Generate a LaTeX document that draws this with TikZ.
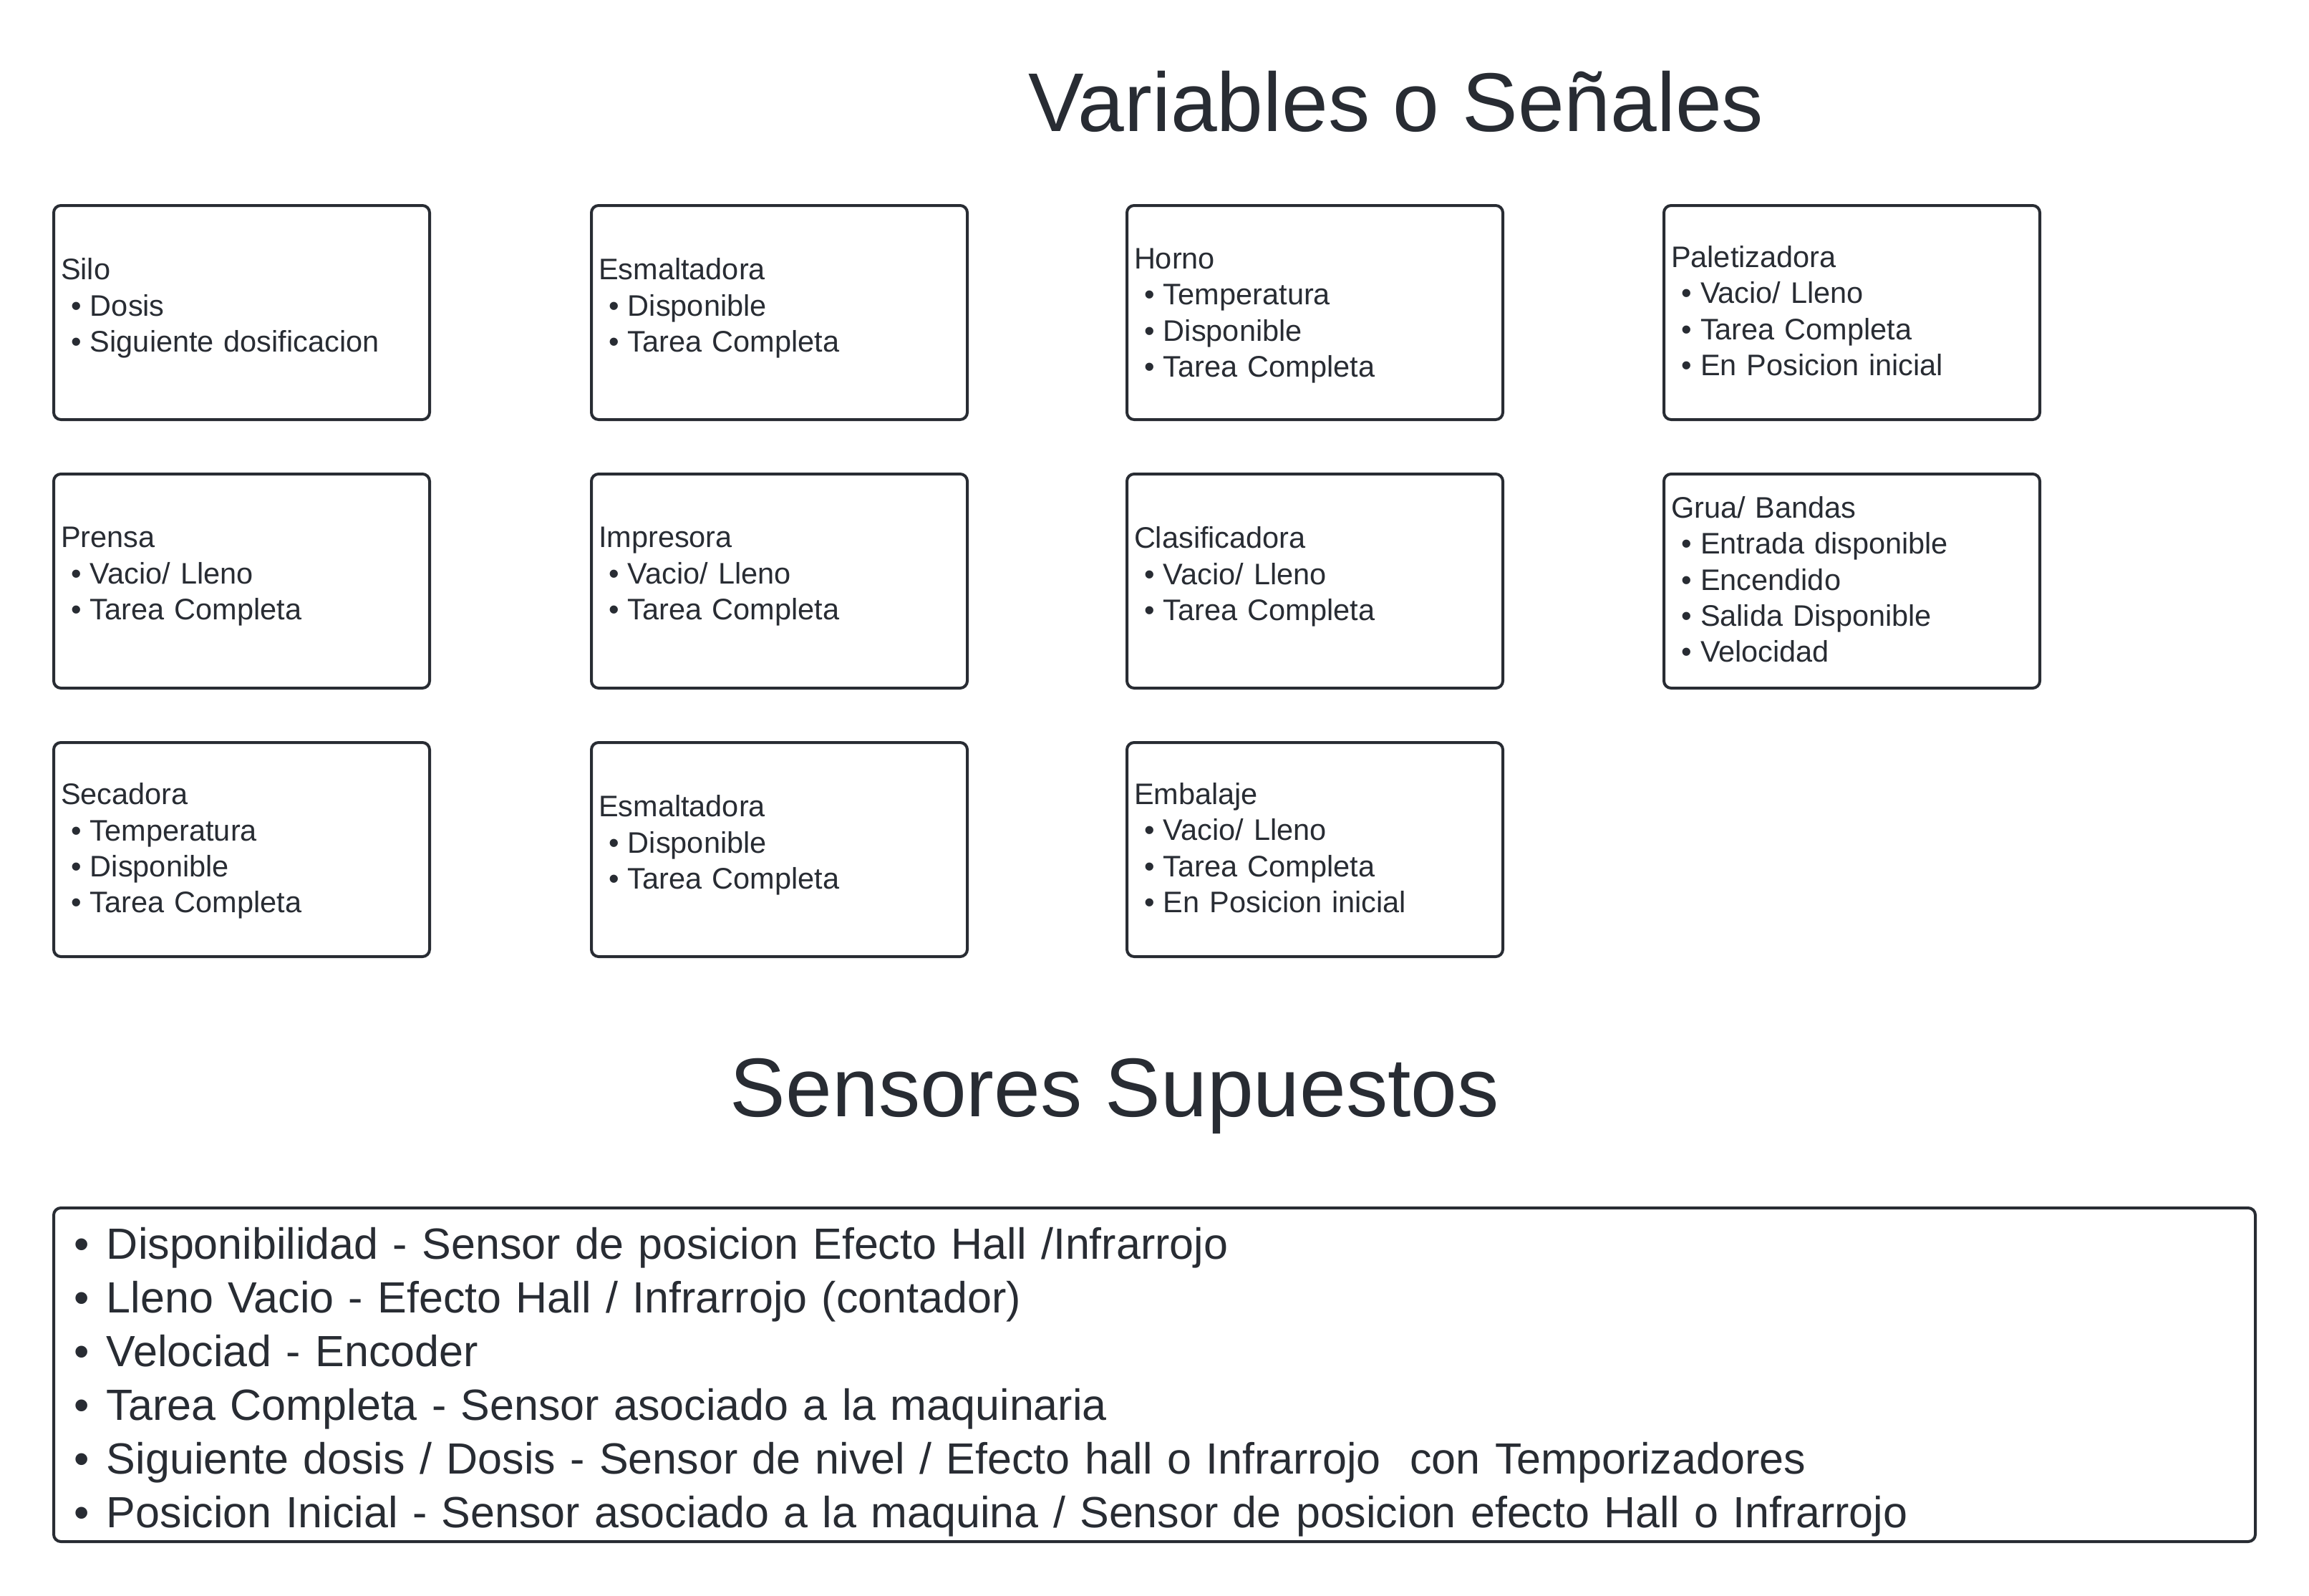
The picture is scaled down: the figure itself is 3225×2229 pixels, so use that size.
\documentclass[tikz,border=0pt]{standalone}
\usepackage{fontspec}
\setmainfont{Liberation Sans}
\definecolor{ink}{RGB}{40,44,51}
\newcommand{\itm}[1]{\\\hspace*{14pt}\makebox[27pt][l]{•}#1}
\newcommand{\lastdep}[1]{\rule[-#1]{0pt}{#1}}
\newcommand{\bitm}[1]{\makebox[46pt][l]{•}#1}
\begin{document}
\begin{tikzpicture}[x=1pt,y=-1pt,
  vbox/.style={draw=ink, text=ink, rounded corners=10pt, line width=4pt,
    minimum width=525pt, minimum height=299pt, text width=505pt, inner xsep=10pt,
    align=left, anchor=north west, font=\fontsize{41.5}{50.4}\selectfont},
  sbox/.style={draw=ink, text=ink, rounded corners=10pt, line width=4pt,
    minimum width=3075pt, minimum height=466pt, text width=3019pt, inner xsep=28pt,
    align=left, anchor=north west, font=\fontsize{61}{75}\selectfont},
  ttl/.style={text=ink, anchor=base, inner sep=0pt, font=\fontsize{116.4}{130}\selectfont}]
\useasboundingbox[fill=white] (0,0) rectangle (3225,2229);
\node[ttl] (t1) at (1950,183) {Variables o Señales};
\node[vbox] (silo) at (73,285) {Silo\itm{Dosis}\itm{Siguiente dosificacion\lastdep{21pt}}};
\node[vbox] (esm1) at (824,285) {Esmaltadora\itm{Disponible}\itm{Tarea Completa\lastdep{21pt}}};
\node[vbox] (horno) at (1572,285) {\rule{0pt}{38pt}Horno\itm{Temperatura}\itm{Disponible}\itm{Tarea Completa}};
\node[vbox] (palet) at (2322,285) {Paletizadora\itm{Vacio/ Lleno}\itm{Tarea Completa}\itm{En Posicion inicial\lastdep{5pt}}};
\node[vbox] (prensa) at (73,660) {Prensa\itm{Vacio/ Lleno}\itm{Tarea Completa\lastdep{21pt}}};
\node[vbox] (impr) at (824,660) {Impresora\itm{Vacio/ Lleno}\itm{Tarea Completa\lastdep{21pt}}};
\node[vbox] (clasif) at (1572,660) {Clasificadora\itm{Vacio/ Lleno}\itm{Tarea Completa\lastdep{21pt}}};
\node[vbox] (grua) at (2322,660) {Grua/ Bandas\itm{Entrada disponible}\itm{Encendido}\itm{Salida Disponible}\itm{Velocidad\lastdep{5pt}}};
\node[vbox] (secad) at (73,1035) {\rule{0pt}{34pt}Secadora\itm{Temperatura}\itm{Disponible}\itm{Tarea Completa}};
\node[vbox] (esm2) at (824,1035) {Esmaltadora\itm{Disponible}\itm{Tarea Completa\lastdep{21pt}}};
\node[vbox] (embal) at (1572,1035) {Embalaje\itm{Vacio/ Lleno}\itm{Tarea Completa}\itm{En Posicion inicial\lastdep{5pt}}};
\node[ttl] (t2) at (1557,1559) {Sensores Supuestos};
\node[sbox] (sens) at (73,1685) {\rule{0pt}{64pt}\bitm{Disponibilidad - Sensor de posicion Efecto Hall /Infrarrojo}\\
\bitm{Lleno Vacio - Efecto Hall / Infrarrojo (contador)}\\
\bitm{Velociad - Encoder}\\
\bitm{Tarea Completa - Sensor asociado a la maquinaria}\\
\bitm{Siguiente dosis / Dosis - Sensor de nivel / Efecto hall o Infrarrojo\ \ con Temporizadores}\\
\bitm{Posicion Inicial - Sensor asociado a la maquina / Sensor de posicion efecto Hall o Infrarrojo}};
\end{tikzpicture}
\end{document}
